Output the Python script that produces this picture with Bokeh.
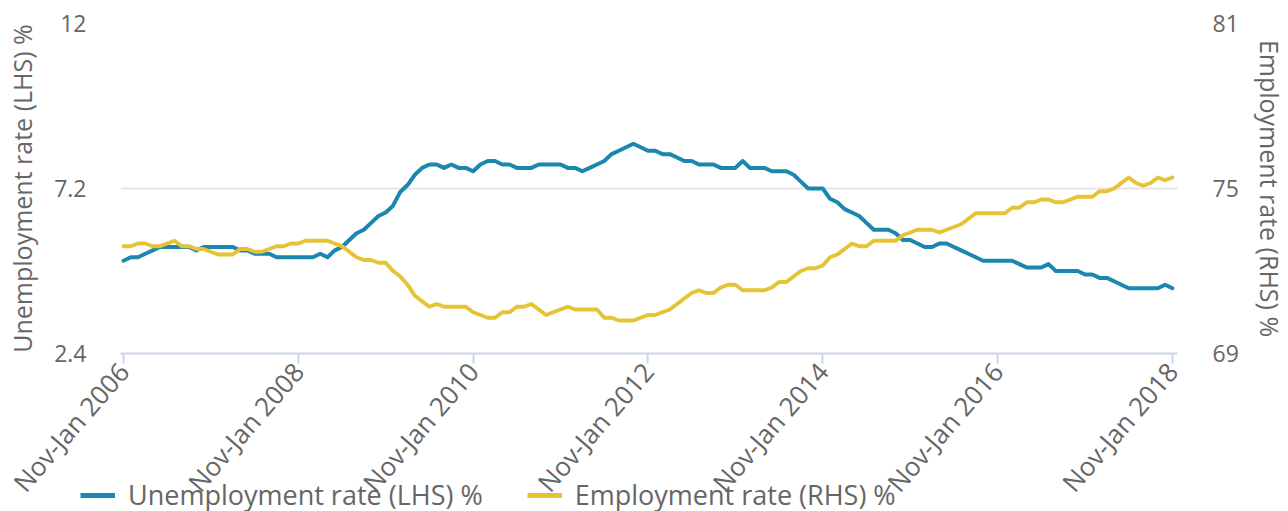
from bokeh.plotting import figure
from bokeh.models import (Range1d, LinearAxis, FixedTicker, NumeralTickFormatter,
                          Legend, LegendItem, ColumnDataSource)
from bokeh.layouts import column
from bokeh.embed import file_html
from bokeh.resources import INLINE

MONTHS = ["Jan", "Feb", "Mar", "Apr", "May", "Jun", "Jul", "Aug", "Sep", "Oct", "Nov", "Dec"]
periods = []
for m in range(145):
    periods.append(f"{MONTHS[(m - 2) % 12]}-{MONTHS[m % 12]} {2006 + m // 12}")

unemployment = [
    5.1, 5.2, 5.2, 5.3, 5.4, 5.5, 5.5, 5.5, 5.5, 5.5, 5.4, 5.5,
    5.5, 5.5, 5.5, 5.5, 5.4, 5.4, 5.3, 5.3, 5.3, 5.2, 5.2, 5.2,
    5.2, 5.2, 5.2, 5.3, 5.2, 5.4, 5.5, 5.7, 5.9, 6.0, 6.2, 6.4,
    6.5, 6.7, 7.1, 7.3, 7.6, 7.8, 7.9, 7.9, 7.8, 7.9, 7.8, 7.8,
    7.7, 7.9, 8.0, 8.0, 7.9, 7.9, 7.8, 7.8, 7.8, 7.9, 7.9, 7.9,
    7.9, 7.8, 7.8, 7.7, 7.8, 7.9, 8.0, 8.2, 8.3, 8.4, 8.5, 8.4,
    8.3, 8.3, 8.2, 8.2, 8.1, 8.0, 8.0, 7.9, 7.9, 7.9, 7.8, 7.8,
    7.8, 8.0, 7.8, 7.8, 7.8, 7.7, 7.7, 7.7, 7.6, 7.4, 7.2, 7.2,
    7.2, 6.9, 6.8, 6.6, 6.5, 6.4, 6.2, 6.0, 6.0, 6.0, 5.9, 5.7,
    5.7, 5.6, 5.5, 5.5, 5.6, 5.6, 5.5, 5.4, 5.3, 5.2, 5.1, 5.1,
    5.1, 5.1, 5.1, 5.0, 4.9, 4.9, 4.9, 5.0, 4.8, 4.8, 4.8, 4.8,
    4.7, 4.7, 4.6, 4.6, 4.5, 4.4, 4.3, 4.3, 4.3, 4.3, 4.3, 4.4,
    4.3,
]

employment = [
    72.9, 72.9, 73.0, 73.0, 72.9, 72.9, 73.0, 73.1, 72.9, 72.9, 72.8, 72.8,
    72.7, 72.6, 72.6, 72.6, 72.8, 72.8, 72.7, 72.7, 72.8, 72.9, 72.9, 73.0,
    73.0, 73.1, 73.1, 73.1, 73.1, 73.0, 72.9, 72.7, 72.5, 72.4, 72.4, 72.3,
    72.3, 72.0, 71.8, 71.5, 71.1, 70.9, 70.7, 70.8, 70.7, 70.7, 70.7, 70.7,
    70.5, 70.4, 70.3, 70.3, 70.5, 70.5, 70.7, 70.7, 70.8, 70.6, 70.4, 70.5,
    70.6, 70.7, 70.6, 70.6, 70.6, 70.6, 70.3, 70.3, 70.2, 70.2, 70.2, 70.3,
    70.4, 70.4, 70.5, 70.6, 70.8, 71.0, 71.2, 71.3, 71.2, 71.2, 71.4, 71.5,
    71.5, 71.3, 71.3, 71.3, 71.3, 71.4, 71.6, 71.6, 71.8, 72.0, 72.1, 72.1,
    72.2, 72.5, 72.6, 72.8, 73.0, 72.9, 72.9, 73.1, 73.1, 73.1, 73.1, 73.3,
    73.4, 73.5, 73.5, 73.5, 73.4, 73.5, 73.6, 73.7, 73.9, 74.1, 74.1, 74.1,
    74.1, 74.1, 74.3, 74.3, 74.5, 74.5, 74.6, 74.6, 74.5, 74.5, 74.6, 74.7,
    74.7, 74.7, 74.9, 74.9, 75.0, 75.2, 75.4, 75.2, 75.1, 75.2, 75.4, 75.3,
    75.4,
]

series_names = ["Unemployment rate (LHS) %", "Employment rate (RHS) %"]
left_ticks = [2.4, 7.2, 12]
right_ticks = [69, 75, 81]
x_tick_idx = [0, 24, 48, 72, 96, 120, 144]

FONT = "Open Sans"
GREY = "#666666"
BLUE = "#1b87ae"
YELLOW = "#e5c334"

src = ColumnDataSource(dict(x=list(range(len(periods))), period=periods,
                            u=unemployment, e=employment))

p = figure(frame_width=1057, frame_height=330, output_backend="svg", toolbar_location=None,
           x_range=Range1d(-0.41, 144.7), y_range=Range1d(2.4, 12),
           min_border_left=120, min_border_right=111, min_border_top=23,
           min_border_bottom=158)
p.frame_align = False
p.outline_line_color = None
p.background_fill_color = "white"
p.border_fill_color = "white"

p.extra_y_ranges = {"emp": Range1d(69, 81)}

# left axis
ya = p.yaxis[0]
ya.ticker = FixedTicker(ticks=left_ticks)
ya.formatter = NumeralTickFormatter(format="0.[0]")
ya.axis_line_color = None
ya.major_tick_line_color = None
ya.major_tick_out = 0
ya.major_tick_in = 0
ya.minor_tick_line_color = None
ya.minor_tick_out = 0
ya.major_label_text_font = FONT
ya.major_label_text_font_size = "23px"
ya.major_label_text_color = GREY
ya.major_label_standoff = 34
ya.axis_label = series_names[0]
ya.axis_label_text_font = FONT
ya.axis_label_text_font_size = "25px"
ya.axis_label_text_font_style = "normal"
ya.axis_label_text_color = GREY
ya.axis_label_standoff = 12

# right axis
ra = LinearAxis(y_range_name="emp", ticker=FixedTicker(ticks=right_ticks))
ra.axis_line_color = None
ra.major_tick_line_color = None
ra.major_tick_out = 0
ra.major_tick_in = 0
ra.minor_tick_line_color = None
ra.minor_tick_out = 0
ra.major_label_text_font = FONT
ra.major_label_text_font_size = "23px"
ra.major_label_text_color = GREY
ra.major_label_standoff = 35
ra.axis_label = series_names[1]
ra.axis_label_text_font = FONT
ra.axis_label_text_font_size = "25px"
ra.axis_label_text_font_style = "normal"
ra.axis_label_text_color = GREY
ra.axis_label_standoff = 11
p.add_layout(ra, "right")

# x axis
xa = p.xaxis[0]
xa.ticker = FixedTicker(ticks=x_tick_idx)
xa.major_label_overrides = {i: periods[i] for i in x_tick_idx}
xa.major_label_orientation = 0.855
xa.major_label_text_font = FONT
xa.major_label_text_font_size = "26px"
xa.major_label_text_color = GREY
xa.major_label_standoff = 3
xa.axis_line_color = "#ccd6eb"
xa.axis_line_width = 2
xa.major_tick_line_color = "#ccd6eb"
xa.major_tick_line_width = 2
xa.major_tick_out = 10
xa.major_tick_in = 0
xa.minor_tick_line_color = None
xa.minor_tick_out = 0

p.xgrid.grid_line_color = None
p.ygrid.grid_line_color = "#e6e6e6"
p.ygrid.grid_line_width = 2

p.line("x", "u", source=src, line_color=BLUE, line_width=4,
       line_join="round", line_cap="round")
p.line("x", "e", source=src, y_range_name="emp", line_color=YELLOW,
       line_width=4, line_join="round", line_cap="round")

# legend strip overlapping the bottom of the chart (transparent); its own view
# range lies outside the data so only the legend is visible
lf = figure(width=1288, height=50, output_backend="svg", toolbar_location=None,
            x_axis_type=None, y_axis_type=None, min_border=0,
            x_range=Range1d(0, 1), y_range=Range1d(-1, 0))
lf.frame_align = False
lf.outline_line_color = None
lf.background_fill_alpha = 0
lf.border_fill_alpha = 0
lf.margin = (-50, 0, 0, 0)
k1 = lf.line("x", "u", source=src, line_color=BLUE, line_width=5)
k2 = lf.line("x", "e", source=src, line_color=YELLOW, line_width=5)
legend = Legend(items=[LegendItem(label=series_names[0], renderers=[k1]),
                       LegendItem(label=series_names[1], renderers=[k2])],
                orientation="horizontal", location=(80, 0),
                label_text_font=FONT, label_text_font_size="27px",
                label_text_color=GREY, glyph_width=35, glyph_height=20,
                label_standoff=13, spacing=44, padding=0, margin=0,
                border_line_color=None, background_fill_alpha=0)
lf.add_layout(legend, "center")

layout = column(p, lf, spacing=0)
open("out.html", "w").write(file_html(layout, INLINE))
